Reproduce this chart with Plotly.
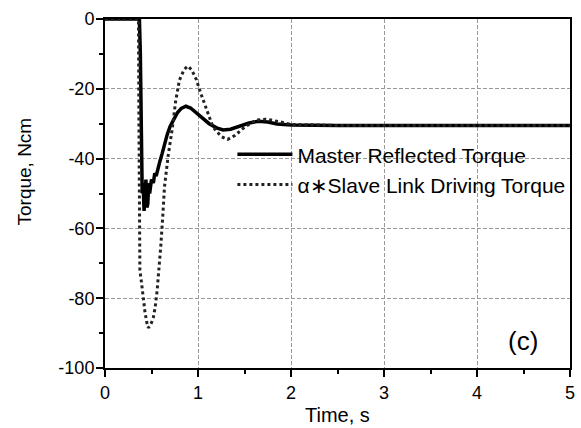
import plotly.graph_objects as go

# ---- data ----
master_t = [0, 0.37, 0.38, 0.39, 0.40, 0.41, 0.42, 0.43, 0.44, 0.45, 0.46, 0.47, 0.48,
            0.49, 0.50, 0.52, 0.535, 0.55, 0.57, 0.59, 0.615, 0.64, 0.67, 0.70, 0.74,
            0.78, 0.82, 0.87, 0.92, 0.98, 1.05, 1.12, 1.20, 1.27, 1.35, 1.45, 1.55,
            1.65, 1.75, 1.85, 2.0, 2.5, 3, 4, 5]
master_y = [0, 0, -10, -30, -50, -47, -55, -51, -46, -54, -53, -47, -50,
            -48, -46, -47, -44.2, -45, -42.5, -40.8, -38.5, -35.6, -33, -30.8, -28.7,
            -26.8, -25.6, -25, -25.5, -26.8, -28.3, -30, -31.2, -31.8, -31.6, -30.8, -29.8,
            -29.3, -29.5, -30.1, -30.4, -30.5, -30.5, -30.5, -30.5]

slave_t = [0, 0.36, 0.365, 0.37, 0.375, 0.39, 0.41, 0.43, 0.45, 0.465, 0.48, 0.50,
           0.52, 0.54, 0.56, 0.58, 0.60, 0.62, 0.64, 0.68, 0.72, 0.76, 0.80, 0.85,
           0.89, 0.93, 0.98, 1.03, 1.09, 1.16, 1.25, 1.32, 1.40, 1.50, 1.62, 1.73,
           1.87, 2.0, 2.5, 3, 4, 5]
slave_y = [0, 0, -30, -60, -72, -75, -80, -84, -87, -88.5, -88, -87,
           -85.5, -82.5, -78, -72, -65, -57, -48, -39, -32, -23.5, -17.5, -14.5,
           -13.5, -14.5, -17.2, -21.3, -26, -30.9, -33.7, -34.5, -33.3, -31, -29, -28.7,
           -29.4, -30.2, -30.5, -30.5, -30.5, -30.5]

x_tickvals = [0, 1, 2, 3, 4, 5]
x_ticktext = ["0", "1", "2", "3", "4", "5"]
y_tickvals = [0, -20, -40, -60, -80, -100]
y_ticktext = ["0", "-20", "-40", "-60", "-80", "-100"]

FONT = "Liberation Sans, Arial, sans-serif"

fig = go.Figure()
fig.add_trace(go.Scatter(x=master_t, y=master_y, mode="lines",
                         name="Master Reflected Torque",
                         line=dict(color="black", width=3.5)))
fig.add_trace(go.Scatter(x=slave_t, y=slave_y, mode="lines",
                         name="\u03b1\u2217Slave Link Driving Torque",
                         line=dict(color="#222", width=3, dash="3px,3px")))

axis_common = dict(
    showline=True, linecolor="black", linewidth=2, mirror=True,
    ticks="outside", ticklen=7, tickwidth=1.5, tickcolor="black",
    showgrid=True, gridcolor="#999", gridwidth=1, griddash="4px,2px",
    zeroline=False,
    tickfont=dict(family=FONT, size=18, color="black"),
)

fig.update_xaxes(range=[0, 5], tickvals=x_tickvals, ticktext=x_ticktext,
                 minor=dict(dtick=0.5, ticks="outside", ticklen=4, tickcolor="black",
                            showgrid=False),
                 **axis_common)
fig.update_yaxes(range=[-100, 0], tickvals=y_tickvals, ticktext=y_ticktext,
                 ticklabelstandoff=-2,
                 minor=dict(dtick=10, ticks="outside", ticklen=4, tickcolor="black",
                            showgrid=False),
                 **axis_common)

fig.update_layout(
    width=581, height=428,
    margin=dict(l=105, r=6, t=19, b=60),
    paper_bgcolor="white", plot_bgcolor="white",
    font=dict(family=FONT, color="black"),
    showlegend=True,
    legend=dict(x=0.274, y=0.67, xanchor="left", yanchor="top",
                bgcolor="rgba(0,0,0,0)", borderwidth=0,
                font=dict(family=FONT, size=21, color="black"),
                itemwidth=55, tracegroupgap=0),
    annotations=[
        dict(text="Torque, Ncm", textangle=-90, xref="paper", yref="paper",
             x=0, y=0.563, xshift=-80, xanchor="center", yanchor="middle",
             showarrow=False,
             font=dict(family=FONT, size=19, color="black")),
        dict(text="Time, s", xref="paper", yref="paper", x=0.5, y=0,
             yshift=-47, xanchor="center", yanchor="middle", showarrow=False,
             font=dict(family=FONT, size=20, color="black")),
        dict(text="(c)", xref="paper", yref="paper", x=0.898, y=0.077,
             xanchor="center", yanchor="middle",
             showarrow=False, font=dict(family=FONT, size=26, color="black")),
    ],
)

fig.write_html("out.html")
